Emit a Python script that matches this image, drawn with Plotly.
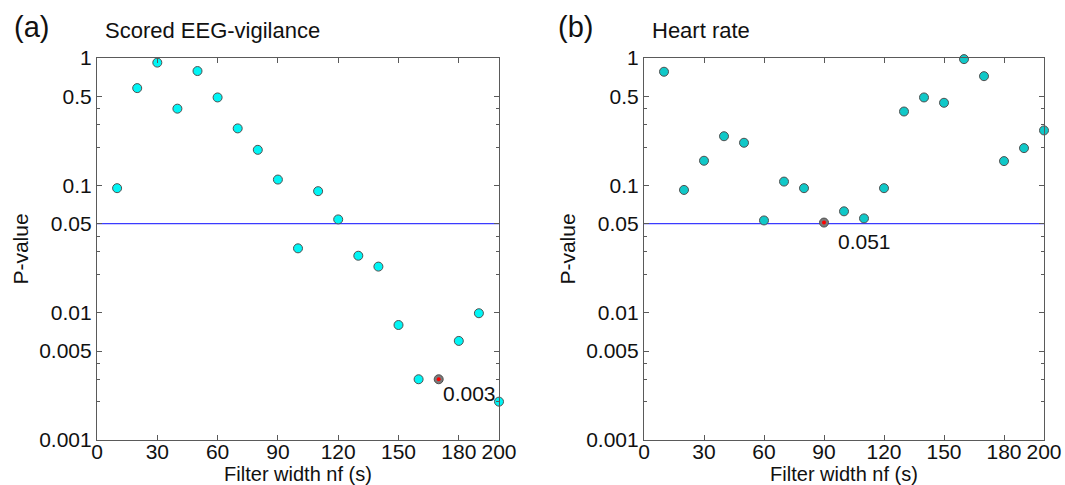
import math
import plotly.graph_objects as go

filter_width = [10, 20, 30, 40, 50, 60, 70, 80, 90, 100,
                110, 120, 130, 140, 150, 160, 170, 180, 190, 200]
p_eeg = [0.095, 0.58, 0.92, 0.40, 0.79, 0.49, 0.28, 0.19, 0.111, 0.032,
         0.090, 0.054, 0.028, 0.023, 0.008, 0.003, 0.003, 0.006, 0.0099, 0.002]
p_hr = [0.78, 0.092, 0.156, 0.243, 0.216, 0.053, 0.107, 0.095, 0.051, 0.0625,
        0.055, 0.095, 0.38, 0.49, 0.445, 0.98, 0.72, 0.155, 0.196, 0.27]
best_eeg_idx = 16   # 170 s, p = 0.003
best_hr_idx = 8     # 90 s, p = 0.051
threshold = 0.05

x_ticks = [0, 30, 60, 90, 120, 150, 180, 200]
y_ticks = [1, 0.5, 0.1, 0.05, 0.01, 0.005, 0.001]
y_ticklabels = ["1", "0.5", "0.1", "0.05", "0.01", "0.005", "0.001"]
y_minor = [0.4, 0.3, 0.2, 0.04, 0.03, 0.02, 0.004, 0.003, 0.002]

panel_titles = ["Scored EEG-vigilance", "Heart rate"]
panel_letters = ["(a)", "(b)"]
ann_texts = ["0.003", "0.051"]
ann_pos = [(171, 0.0023), (96, 0.036)]

FONT = "Liberation Sans, Arial, sans-serif"
W, H = 1065, 485
FS = 21

fig = go.Figure()

panels = [
    dict(y=p_eeg, best=best_eeg_idx, color="#00F5F5", xd=[97 / W, 499 / W]),
    dict(y=p_hr, best=best_hr_idx, color="#10C8C8", xd=[644 / W, 1044 / W]),
]
yd = [1 - 440 / H, 1 - 58 / H]

for i, p in enumerate(panels):
    xa = "x" if i == 0 else "x2"
    ya = "y" if i == 0 else "y2"
    fig.add_trace(go.Scatter(x=[0, 200], y=[threshold, threshold], mode="lines",
                             line=dict(color="#3b3bff", width=1.2),
                             xaxis=xa, yaxis=ya, showlegend=False, hoverinfo="skip"))
    colors = [p["color"]] * len(filter_width)
    colors[p["best"]] = "#7a7a7a"
    fig.add_trace(go.Scatter(x=filter_width, y=p["y"], mode="markers",
                             marker=dict(size=9, color=colors,
                                         line=dict(color="#505050", width=1)),
                             cliponaxis=False, xaxis=xa, yaxis=ya, showlegend=False))
    fig.add_trace(go.Scatter(x=[filter_width[p["best"]]], y=[p["y"][p["best"]]],
                             mode="markers", marker=dict(size=4, color="#ff0000"),
                             cliponaxis=False, xaxis=xa, yaxis=ya, showlegend=False))
    # annotations on log axes use log10 coordinates
    fig.add_annotation(x=ann_pos[i][0], y=math.log10(ann_pos[i][1]), xref=xa, yref=ya,
                       text=ann_texts[i], showarrow=False, xanchor="left",
                       yanchor="middle", font=dict(size=FS, color="#111"))

    axis_common = dict(showline=True, linecolor="#5a5a5a", linewidth=1.2,
                       mirror="ticks", ticks="inside", tickcolor="#5a5a5a",
                       ticklen=5, tickwidth=1, showgrid=False, zeroline=False,
                       automargin=False,
                       tickfont=dict(size=FS, color="#111", family=FONT))
    xkey = "xaxis" if i == 0 else "xaxis2"
    ykey = "yaxis" if i == 0 else "yaxis2"
    fig.update_layout(**{
        xkey: dict(domain=p["xd"], range=[0, 200], tickmode="array", tickvals=x_ticks,
                   anchor=ya, ticklabelstandoff=-7,
                   title=dict(text="Filter width nf (s)", standoff=0,
                              font=dict(size=20, color="#111")),
                   **axis_common),
        ykey: dict(domain=yd, type="log", range=[-3, 0], tickmode="array",
                   tickvals=y_ticks, ticktext=y_ticklabels, anchor=xa,
                   minor=dict(tickmode="array", tickvals=y_minor, ticks="inside",
                              ticklen=3, tickcolor="#5a5a5a"),
                   title=dict(text="P-value", standoff=4,
                              font=dict(size=FS, color="#111")),
                   **axis_common),
    })

    x0 = p["xd"][0]
    fig.add_annotation(x=x0 + 6 / W, y=1 - 30 / H, xref="paper", yref="paper",
                       text=panel_titles[i], showarrow=False, xanchor="left",
                       yanchor="middle", font=dict(size=22, color="#111"))
    fig.add_annotation(x=x0 - 85 / W if i == 0 else x0 - 88 / W, y=1 - 27 / H,
                       xref="paper", yref="paper", text=panel_letters[i],
                       showarrow=False, xanchor="left", yanchor="middle",
                       font=dict(size=29, color="#111"))

fig.update_layout(width=W, height=H, margin=dict(l=0, r=0, t=0, b=0),
                  plot_bgcolor="white", paper_bgcolor="white",
                  font=dict(family=FONT, color="#111"))

fig.write_html("out.html", config={"displayModeBar": False},
               post_script="document.body.style.margin='0';document.body.style.overflow='hidden';")
